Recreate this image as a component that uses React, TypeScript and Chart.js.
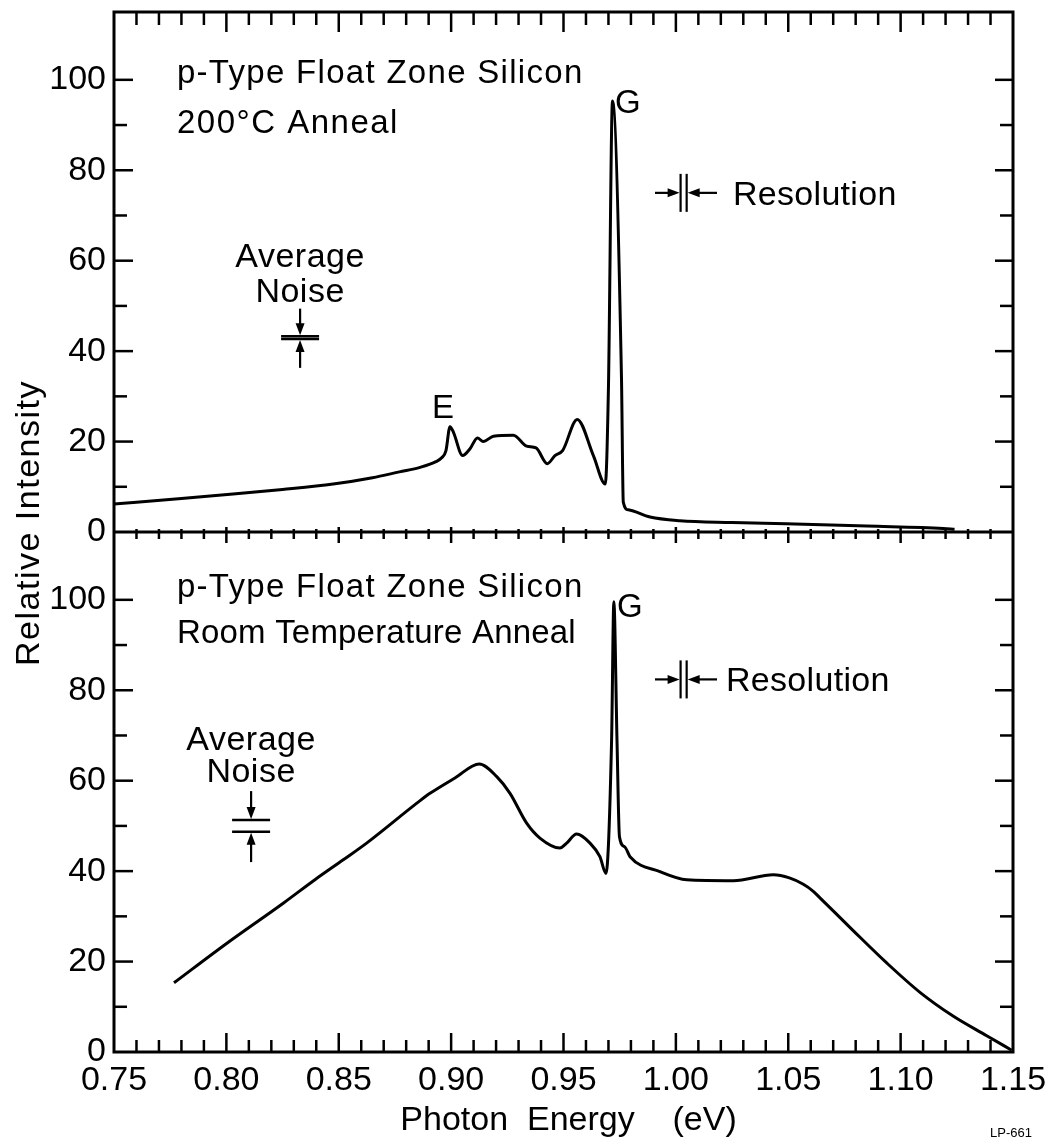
import React, { useEffect, useRef } from 'react';
import { Chart, registerables } from 'chart.js';

Chart.register(...registerables);

// Photoluminescence spectrum after the 200 °C anneal (upper panel)
const topEnergy = [
  0.75, 0.78, 0.803, 0.825, 0.8475, 0.865, 0.877, 0.8862, 0.893, 0.8958, 0.8977, 0.8995, 0.901,
  0.9051, 0.9084, 0.9117, 0.9143, 0.9188, 0.9277, 0.9336, 0.9378, 0.9428, 0.9462, 0.9496, 0.9561,
  0.9633, 0.9686, 0.97, 0.9718, 0.9758, 0.9766, 0.9788, 0.9885, 1.0018, 1.025, 1.049, 1.085, 1.119,
  1.124,
];
const topIntensity = [
  6.2, 7.4, 8.4, 9.4, 10.6, 12.0, 13.3, 14.3, 15.5, 16.4, 18.0, 23.3, 22.1,
  16.9, 18.4, 20.8, 20.0, 21.2, 21.4, 19.0, 18.6, 15.1, 16.9, 18.0, 24.9,
  16.9, 10.6, 32.0, 95.3, 34.0, 6.6, 4.9, 3.3, 2.5, 2.1, 1.8, 1.3, 0.8,
  0.6,
];

// Photoluminescence spectrum after the room temperature anneal (lower panel)
const bottomEnergy = [
  0.7767, 0.8001, 0.8253, 0.8394, 0.852, 0.8624, 0.8862, 0.8906, 0.9017, 0.9125, 0.9203, 0.9262,
  0.9336, 0.9395, 0.9484, 0.9514, 0.9558, 0.9618, 0.9662, 0.9689, 0.9714, 0.9724, 0.9738, 0.9749,
  0.9772, 0.9796, 0.9929, 1.0048, 1.0256, 1.0434, 1.0505, 1.0567, 1.061, 1.0641, 1.079, 1.0938,
  1.1086, 1.1235, 1.1383, 1.1494,
];
const bottomIntensity = [
  15.3, 24.0, 32.9, 38.1, 42.5, 46.2, 55.6, 57.2, 60.6, 63.7, 60.9, 57.2,
  50.6, 47.3, 45.1, 46.2, 48.2, 46.2, 43.2, 39.5, 69.0, 99.6, 69.0, 47.6,
  45.4, 43.2, 39.9, 38.1, 37.9, 39.2, 38.5, 37.1, 35.6, 34.1, 26.8, 19.7,
  13.2, 7.9, 3.6, 0.4,
];

const energyRange = [0.75, 1.15];
const intensityRange = [0, 115];
const xTickLabels = ['0.75', '0.80', '0.85', '0.90', '0.95', '1.00', '1.05', '1.10', '1.15'];
const yTickLabels = [0, 20, 40, 60, 80, 100];

// Instrument markers: average noise band (intensity units) and spectral resolution (eV)
const noiseTop = { energy: 0.8328, low: 42.7, high: 43.3, from: 49.4, to: 36.3 };
const noiseBottom = { energy: 0.811, low: 48.7, high: 51.3, from: 57.7, to: 42.0 };
const resolution = { left: 1.0021, right: 1.0048, armLeft: 0.9907, armRight: 1.0183 };
const resolutionTopLevel = 75.0;
const resolutionBottomLevel = 82.4;

const FONT = "'Liberation Sans', Arial, Helvetica, sans-serif";

type Scale = any;

const framePlugin = {
  id: 'panelFrame',
  afterDraw(chart: any) {
    const ctx: CanvasRenderingContext2D = chart.ctx;
    const x: Scale = chart.scales.x;
    const yT: Scale = chart.scales.yTop;
    const yB: Scale = chart.scales.yBottom;
    const area = chart.chartArea;
    const mid = yT.getPixelForValue(0);

    const seg = (x1: number, y1: number, x2: number, y2: number) => {
      ctx.beginPath();
      ctx.moveTo(x1, y1);
      ctx.lineTo(x2, y2);
      ctx.stroke();
    };
    const arrowHead = (tx: number, ty: number, dx: number, dy: number) => {
      // filled triangle pointing along (dx, dy), tip at (tx, ty)
      const len = 12;
      const half = 4.5;
      const bx = tx - dx * len;
      const by = ty - dy * len;
      ctx.beginPath();
      ctx.moveTo(tx, ty);
      ctx.lineTo(bx - dy * half, by + dx * half);
      ctx.lineTo(bx + dy * half, by - dx * half);
      ctx.closePath();
      ctx.fill();
    };
    const text = (
      str: string,
      scale: Scale,
      xv: number,
      yv: number,
      align: CanvasTextAlign = 'left',
      size = 33,
      spacing = 0,
    ) => {
      ctx.font = `${size}px ${FONT}`;
      ctx.textAlign = align;
      ctx.textBaseline = 'alphabetic';
      (ctx as any).letterSpacing = `${spacing}px`;
      ctx.fillText(str, x.getPixelForValue(xv), scale.getPixelForValue(yv));
      (ctx as any).letterSpacing = '0px';
    };

    ctx.save();
    ctx.strokeStyle = '#000';
    ctx.fillStyle = '#000';
    ctx.lineCap = 'butt';

    // frame and divider between the two panels
    ctx.lineWidth = 3;
    ctx.strokeRect(area.left, area.top, area.right - area.left, area.bottom - area.top);
    seg(area.left, mid, area.right, mid);

    // inward energy ticks every 0.01 eV
    ctx.lineWidth = 2.5;
    const steps = Math.round((energyRange[1] - energyRange[0]) / 0.01);
    for (let i = 1; i < steps; i++) {
      const px = x.getPixelForValue(energyRange[0] + i * 0.01);
      const major = i % 5 === 0;
      seg(px, area.top, px, area.top + (major ? 20 : 13));
      seg(px, mid - (major ? 5 : 3), px, mid + (major ? 11 : 7));
      seg(px, area.bottom, px, area.bottom - (major ? 19 : 12));
    }
    // inward intensity ticks every 10 units
    for (const s of [yT, yB]) {
      for (let v = 10; v <= 100; v += 10) {
        const py = s.getPixelForValue(v);
        const major = v % 20 === 0;
        seg(area.left, py, area.left + (major ? 19 : 13), py);
        seg(area.right, py, area.right - (major ? 18 : 13), py);
      }
    }

    // panel captions
    text('p-Type Float Zone Silicon', yT, 0.778, 99.2, 'left', 33, 1.3);
    text('200°C Anneal', yT, 0.778, 88.2, 'left', 33, 1.5);
    text('p-Type Float Zone Silicon', yB, 0.778, 100.6, 'left', 33, 1.3);
    text('Room Temperature Anneal', yB, 0.778, 90.4, 'left', 33, 0.2);

    // line labels
    text('G', yT, 0.9729, 92.7, 'left', 33);
    text('G', yB, 0.9738, 96.2, 'left', 33);
    text('E', yT, 0.8964, 25.2, 'center', 33);

    // average noise markers
    const noise = (s: Scale, n: typeof noiseTop, labelTop: number, labelBottom: number) => {
      text('Average', s, n.energy, labelTop, 'center', 34, 0.5);
      text('Noise', s, n.energy, labelBottom, 'center', 34, 0.5);
      const cx = x.getPixelForValue(n.energy);
      const pHigh = s.getPixelForValue(n.high);
      const pLow = s.getPixelForValue(n.low);
      ctx.lineWidth = 2.5;
      seg(cx - 19, pHigh, cx + 19, pHigh);
      seg(cx - 19, pLow, cx + 19, pLow);
      ctx.lineWidth = 2.2;
      seg(cx, s.getPixelForValue(n.from), cx, pHigh - 6);
      arrowHead(cx, pHigh - 1, 0, 1);
      seg(cx, s.getPixelForValue(n.to), cx, pLow + 6);
      arrowHead(cx, pLow + 1, 0, -1);
    };
    noise(yT, noiseTop, 58.6, 50.9);
    noise(yB, noiseBottom, 66.8, 59.7);

    // resolution markers
    const res = (s: Scale, level: number, labelY: number, labelX: number) => {
      const cy = s.getPixelForValue(level);
      const l = x.getPixelForValue(resolution.left);
      const r = x.getPixelForValue(resolution.right);
      ctx.lineWidth = 2.2;
      seg(l, cy - 19, l, cy + 19);
      seg(r, cy - 19, r, cy + 19);
      seg(x.getPixelForValue(resolution.armLeft), cy, l - 6, cy);
      arrowHead(l - 1, cy, 1, 0);
      seg(x.getPixelForValue(resolution.armRight), cy, r + 6, cy);
      arrowHead(r + 1, cy, -1, 0);
      text('Resolution', s, labelX, labelY, 'left', 34, 0.3);
    };
    res(yT, resolutionTopLevel, 72.3, 1.0254);
    res(yB, resolutionBottomLevel, 79.8, 1.0223);

    // axis titles
    ctx.font = `34px ${FONT}`;
    ctx.textAlign = 'center';
    ctx.textBaseline = 'alphabetic';
    ctx.fillText('Photon  Energy    (eV)', (area.left + area.right) / 2 + 5, area.bottom + 78);
    ctx.save();
    ctx.translate(39, (area.top + area.bottom) / 2 - 9);
    ctx.rotate(-Math.PI / 2);
    (ctx as any).letterSpacing = '1.5px';
    ctx.fillText('Relative Intensity', 0, 0);
    (ctx as any).letterSpacing = '0px';
    ctx.restore();

    ctx.font = `13px ${FONT}`;
    ctx.textAlign = 'right';
    ctx.fillText('LP-661', area.right + 19, area.bottom + 85);

    ctx.restore();
  },
};

const yAxis = (weight: number) => ({
  type: 'linear' as const,
  position: 'left' as const,
  stack: 'panels',
  stackWeight: 1,
  weight,
  offset: false,
  min: intensityRange[0],
  max: intensityRange[1],
  grid: { display: false, drawTicks: false },
  border: { display: false },
  ticks: {
    stepSize: 20,
    padding: 8,
    color: '#000',
    font: { family: FONT, size: 34 },
  },
  afterBuildTicks: (scale: any) => {
    scale.ticks = yTickLabels.map((v) => ({ value: v }));
  },
  afterFit: (scale: any) => {
    scale.width = 114;
    scale.paddingTop = 0;
    scale.paddingBottom = 0;
  },
});

export default function App() {
  const canvasRef = useRef<HTMLCanvasElement | null>(null);

  useEffect(() => {
    if (!canvasRef.current) return;
    const chart = new Chart(canvasRef.current, {
      type: 'line',
      data: {
        datasets: [
          {
            label: '200°C Anneal',
            data: topEnergy.map((e, i) => ({ x: e, y: topIntensity[i] })),
            yAxisID: 'yTop',
            borderColor: '#000',
            borderWidth: 3,
            pointRadius: 0,
            cubicInterpolationMode: 'monotone',
            fill: false,
          },
          {
            label: 'Room Temperature Anneal',
            data: bottomEnergy.map((e, i) => ({ x: e, y: bottomIntensity[i] })),
            yAxisID: 'yBottom',
            borderColor: '#000',
            borderWidth: 3,
            pointRadius: 0,
            cubicInterpolationMode: 'monotone',
            fill: false,
          },
        ],
      },
      options: {
        animation: false,
        responsive: true,
        maintainAspectRatio: false,
        layout: { padding: { left: 0, top: 12, right: 42, bottom: 0 } },
        plugins: {
          legend: { display: false },
          tooltip: { enabled: false },
        },
        scales: {
          x: {
            type: 'linear',
            position: 'bottom',
            min: energyRange[0],
            max: energyRange[1],
            grid: { display: false, drawTicks: false },
            border: { display: false },
            ticks: {
              stepSize: 0.05,
              padding: 8,
              autoSkip: false,
              maxRotation: 0,
              color: '#000',
              font: { family: FONT, size: 34 },
              callback: (v: any) => {
                const idx = Math.round((Number(v) - energyRange[0]) / 0.05);
                return xTickLabels[idx] ?? '';
              },
            },
            afterFit: (scale: any) => {
              scale.height = 88;
            },
          },
          yTop: yAxis(2),
          yBottom: yAxis(1),
        },
      },
      plugins: [framePlugin],
    });
    return () => chart.destroy();
  }, []);

  return (
    <div style={{ position: 'absolute', left: 0, top: 0, width: 1055, height: 1140, background: '#fff' }}>
      <canvas ref={canvasRef} />
    </div>
  );
}
